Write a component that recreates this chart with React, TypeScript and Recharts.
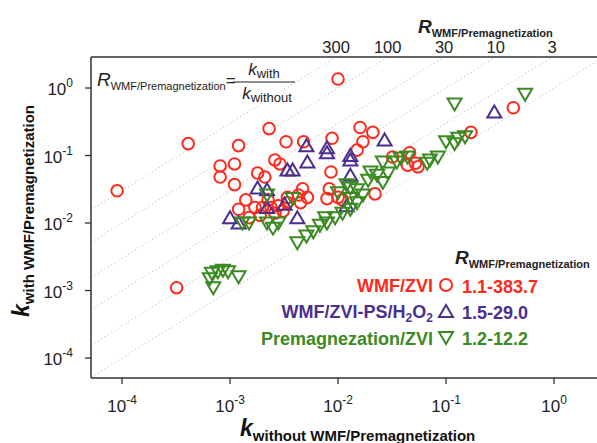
import React from "react";
import { ScatterChart, Scatter, XAxis, YAxis, ReferenceLine, ReferenceDot } from "recharts";

// k_without, k_with pairs
const wmfZvi: [number, number][] = [
  [9.0e-5, 0.03], [4.1e-4, 0.15], [0.01, 1.36], [3.2e-4, 1.1e-3], [0.42, 0.51],
  [0.17, 0.22], [1.2e-3, 0.14], [2.3e-3, 0.25], [3.3e-3, 0.16], [4.8e-3, 0.16],
  [8.8e-3, 0.18], [0.016, 0.26], [0.021, 0.22], [0.017, 0.16], [0.015, 0.12],
  [8.1e-4, 0.07], [1.1e-3, 0.075], [8.1e-4, 0.048], [1.1e-3, 0.037], [2.6e-3, 0.086],
  [2.9e-3, 0.075], [1.8e-3, 0.055], [2.1e-3, 0.048], [8.6e-3, 0.057], [4.7e-3, 0.032],
  [5.2e-3, 0.024], [4.5e-3, 0.02], [8.3e-3, 0.032], [7.9e-3, 0.023], [0.01, 0.024],
  [0.011, 0.022], [0.022, 0.027], [1.4e-3, 0.022], [1.2e-3, 0.016], [1.7e-3, 0.017],
  [2.0e-3, 0.017], [2.4e-3, 0.017], [2.8e-3, 0.018], [3.4e-3, 0.02], [1.5e-3, 0.012],
  [1.9e-3, 0.013], [2.6e-3, 0.014], [3.1e-3, 0.015], [0.046, 0.11], [0.052, 0.077],
  [0.055, 0.068], [0.044, 0.072], [0.032, 0.095], [2.25e-3, 0.022], [3.4e-3, 0.024],
  [4.3e-3, 0.026],
];

const wmfZviPs: [number, number][] = [
  [5.1e-3, 0.14], [7.9e-3, 0.13], [7.9e-3, 0.11], [0.013, 0.1], [0.013, 0.086],
  [5.2e-3, 0.08], [3.4e-3, 0.061], [3.8e-3, 0.061], [0.027, 0.17], [1.8e-3, 0.033],
  [2.2e-3, 0.031], [2.2e-3, 0.017], [3.2e-3, 0.019], [4.2e-3, 0.012], [1.0e-3, 0.012],
  [1.2e-3, 0.01], [0.013, 0.051], [0.28, 0.44], [0.012, 0.018],
];

const premagZvi: [number, number][] = [
  [6.8e-4, 1.8e-3], [7.7e-4, 1.9e-3], [8.6e-4, 2.0e-3], [9.6e-4, 1.9e-3], [1.2e-3, 1.6e-3],
  [7.0e-4, 1.1e-3], [6.5e-4, 1.5e-3], [4.2e-3, 5.1e-3], [1.3e-3, 0.01], [1.5e-3, 0.01],
  [2.2e-3, 0.01], [2.5e-3, 8.4e-3], [2.8e-3, 0.01], [2.2e-3, 0.026], [3.8e-3, 0.023],
  [5.9e-3, 7.4e-3], [6.8e-3, 9.3e-3], [7.9e-3, 0.01], [9.4e-3, 0.012], [0.011, 0.014],
  [0.013, 0.016], [0.015, 0.02], [0.013, 0.023], [0.012, 0.037], [0.013, 0.033],
  [0.015, 0.031], [0.017, 0.026], [0.01, 0.028], [0.026, 0.08], [0.02, 0.057],
  [0.023, 0.051], [0.029, 0.055], [0.026, 0.04], [0.038, 0.092], [0.044, 0.095],
  [0.035, 0.08], [5.1e-3, 6.4e-3], [0.12, 0.58], [0.1, 0.16], [0.12, 0.15],
  [0.13, 0.18], [0.15, 0.19], [0.071, 0.086], [0.084, 0.095], [0.067, 0.077],
  [0.54, 0.81], [7.6e-3, 0.012], [0.019, 0.043],
];

const xTicks = [1e-4, 1e-3, 1e-2, 1e-1, 1];
const yTicks = [1e-4, 1e-3, 1e-2, 1e-1, 1];
const ratioLines = [1, 3, 10, 30, 100, 300];
const ratioLabels = [300, 100, 30, 10, 3];

const xMin = 5.16e-5;
const xMax = 2.5;
const yMin = 5.06e-5;
const yMax = 2.88;

const RED = "#ff2a1c";
const PURPLE = "#4b2f8f";
const GREEN = "#3b8a22";
const NARROW = "'Liberation Sans Narrow', 'Arial Narrow', 'Liberation Sans', Arial, sans-serif";
const SANS = "'Liberation Sans', Arial, sans-serif";

const toPoints = (arr: [number, number][]) => arr.map(([x, y]) => ({ x, y }));

const Circle = (p: any) => (
  <circle cx={p.cx} cy={p.cy} r={5.8} fill="none" stroke={RED} strokeWidth={2} />
);
const TriUp = (p: any) => (
  <path
    d={`M${p.cx},${p.cy - 6.5} L${p.cx + 7},${p.cy + 5.5} L${p.cx - 7},${p.cy + 5.5} Z`}
    fill="none" stroke={PURPLE} strokeWidth={2}
  />
);
const TriDown = (p: any) => (
  <path
    d={`M${p.cx - 7},${p.cy - 5.5} L${p.cx + 7},${p.cy - 5.5} L${p.cx},${p.cy + 6.5} Z`}
    fill="none" stroke={GREEN} strokeWidth={2}
  />
);

const exp10 = (v: number) => Math.round(Math.log10(v));

const XTick = ({ x, payload }: any) => (
  <text x={x} y={412} textAnchor="middle" fontFamily={NARROW} fontSize={17} fill="#222">
    10<tspan dy={-8} fontSize={12}>{exp10(payload.value)}</tspan>
  </text>
);

const YTick = ({ y, payload }: any) => (
  <text x={73} y={y + 7} textAnchor="end" fontFamily={NARROW} fontSize={17} fill="#222">
    10<tspan dy={-8} fontSize={12}>{exp10(payload.value)}</tspan>
  </text>
);

export default function App() {
  return (
    <div style={{ position: "absolute", left: 0, top: 0, width: 597, height: 443, background: "#fff" }}>
      <ScatterChart width={597} height={443} margin={{ top: 57, right: 0, bottom: 35, left: 61 }}>
        <XAxis
          type="number" dataKey="x" scale="log" domain={[xMin, xMax]} allowDataOverflow
          ticks={xTicks} tick={<XTick />} height={30} tickSize={6} interval={0}
          axisLine={{ stroke: "#333", strokeWidth: 1.5 }} tickLine={{ stroke: "#333", strokeWidth: 1.3 }}
        />
        <YAxis
          type="number" dataKey="y" scale="log" domain={[yMin, yMax]} allowDataOverflow
          ticks={yTicks} tick={<YTick />} width={30} tickSize={6} interval={0}
          axisLine={{ stroke: "#333", strokeWidth: 1.5 }} tickLine={{ stroke: "#333", strokeWidth: 1.3 }}
        />
        {ratioLines.map((r) => (
          <ReferenceLine
            key={r}
            segment={[{ x: xMin, y: xMin * r }, { x: xMax, y: xMax * r }]}
            ifOverflow="hidden"
            stroke="#c4c4c4"
            strokeWidth={1.2}
            strokeDasharray="1 3"
          />
        ))}
        <ReferenceLine y={yMax} ifOverflow="visible" stroke="#333" strokeWidth={1.5} />
        {ratioLabels.map((r) => (
          <ReferenceDot
            key={r}
            x={yMax / r}
            y={yMax}
            r={0}
            ifOverflow="visible"
            label={{ value: String(r), position: "top", offset: 4, fontSize: 16.5, fill: "#222", fontFamily: SANS }}
          />
        ))}
        <Scatter data={toPoints(wmfZvi)} shape={Circle} isAnimationActive={false} />
        <Scatter data={toPoints(wmfZviPs)} shape={TriUp} isAnimationActive={false} />
        <Scatter data={toPoints(premagZvi)} shape={TriDown} isAnimationActive={false} />
      </ScatterChart>

      <svg width={597} height={443} style={{ position: "absolute", left: 0, top: 0, pointerEvents: "none" }}>
        {/* top R axis title */}
        <text x={418} y={33} fontFamily={SANS} fill="#222">
          <tspan fontSize={19} fontStyle="italic" fontWeight="bold">R</tspan>
          <tspan fontSize={11} fontWeight="bold" dy={4}>WMF/Premagnetization</tspan>
        </text>

        {/* equation */}
        <text x={97} y={86} fontFamily={SANS} fill="#222">
          <tspan fontSize={19} fontStyle="italic">R</tspan>
          <tspan fontSize={11} dy={4}>WMF/Premagnetization</tspan>
          <tspan fontSize={17} dy={-4}>=</tspan>
        </text>
        <line x1={233} x2={295} y1={82} y2={82} stroke="#222" strokeWidth={1.2} />
        <text x={264} y={75} textAnchor="middle" fontFamily={SANS} fill="#222">
          <tspan fontSize={17} fontStyle="italic">k</tspan>
          <tspan fontSize={13} dy={3}>with</tspan>
        </text>
        <text x={267} y={99} textAnchor="middle" fontFamily={SANS} fill="#222">
          <tspan fontSize={17} fontStyle="italic">k</tspan>
          <tspan fontSize={13} dy={3}>without</tspan>
        </text>

        {/* axis titles */}
        <text transform="translate(29,211) rotate(-90)" textAnchor="middle" fontFamily={SANS} fontWeight="bold" fill="#111">
          <tspan fontSize={23} fontStyle="italic">k</tspan>
          <tspan fontSize={15} dy={5}>with WMF/Premagnetization</tspan>
        </text>
        <text x={240} y={436} fontFamily={SANS} fontWeight="bold" fill="#111">
          <tspan fontSize={23} fontStyle="italic">k</tspan>
          <tspan fontSize={15} dy={5}>without WMF/Premagnetization</tspan>
        </text>

        {/* legend */}
        <text x={455} y={264} fontFamily={SANS} fill="#222">
          <tspan fontSize={19} fontStyle="italic" fontWeight="bold">R</tspan>
          <tspan fontSize={11} fontWeight="bold" dy={4}>WMF/Premagnetization</tspan>
        </text>

        <g fontFamily={SANS} fontSize={18} fontWeight="bold">
          <text x={433} y={292} textAnchor="end" fill={RED}>WMF/ZVI</text>
          <circle cx={446} cy={285} r={6} fill="none" stroke={RED} strokeWidth={2} />
          <text x={462} y={293} fill={RED}>1.1-383.7</text>

          <text x={433} y={318} textAnchor="end" fill={PURPLE}>
            WMF/ZVI-PS/H<tspan fontSize={12} dy={4}>2</tspan><tspan dy={-4}>O</tspan><tspan fontSize={12} dy={4}>2</tspan>
          </text>
          <path d="M446,305 L453,317 L439,317 Z" fill="none" stroke={PURPLE} strokeWidth={2} />
          <text x={462} y={319} fill={PURPLE}>1.5-29.0</text>

          <text x={433} y={345} textAnchor="end" fill={GREEN}>Premagnezation/ZVI</text>
          <path d="M439,332 L453,332 L446,344 Z" fill="none" stroke={GREEN} strokeWidth={2} />
          <text x={462} y={345} fill={GREEN}>1.2-12.2</text>
        </g>
      </svg>
    </div>
  );
}
